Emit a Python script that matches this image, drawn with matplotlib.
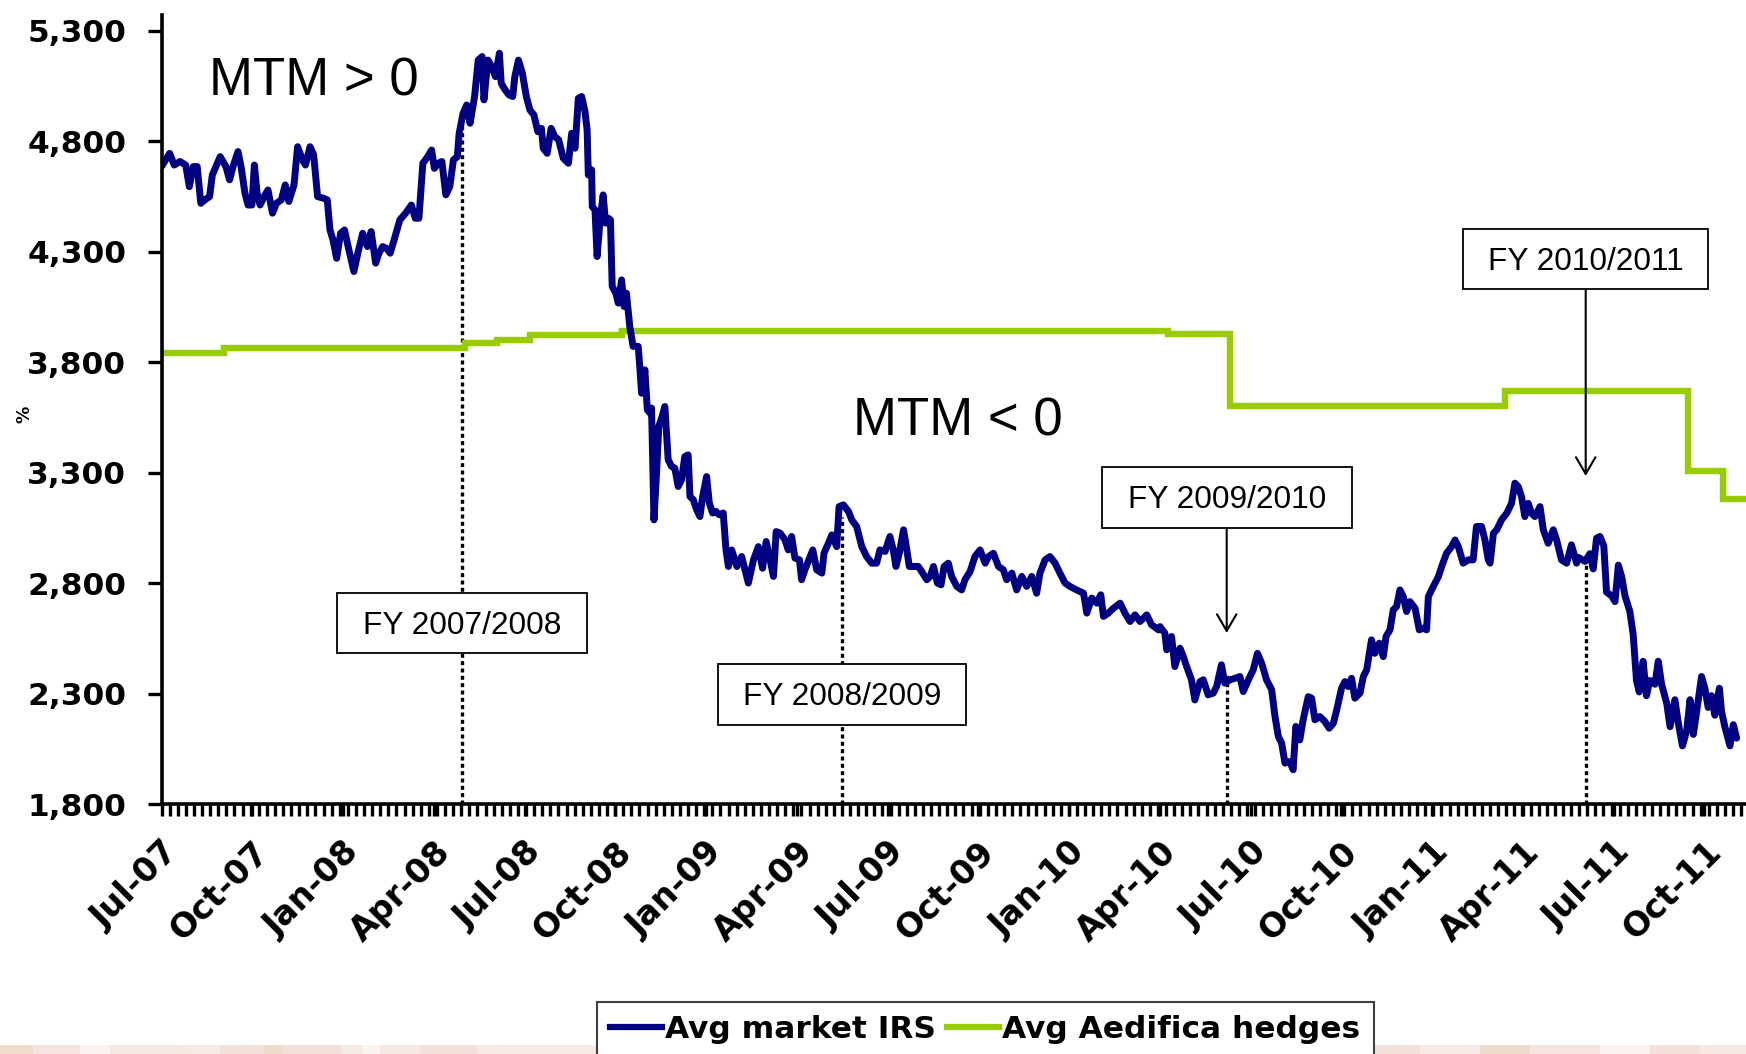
import matplotlib
matplotlib.use("Agg")
import matplotlib.pyplot as plt
from matplotlib.patches import Rectangle
from matplotlib.lines import Line2D
from matplotlib.transforms import Affine2D, ScaledTranslation
from matplotlib.ticker import MultipleLocator

# ---------------- data (x = months since July 2007) ----------------
irs_months = [
    0.0, 0.27, 0.42, 0.61, 0.80, 0.92, 1.05, 1.18, 1.30, 1.43, 1.59, 1.68, 1.94, 2.13, 2.25, 2.38,
    2.53, 2.63, 2.76, 2.86, 2.99, 3.07, 3.16, 3.26, 3.39, 3.52, 3.67, 3.80, 3.96, 4.09, 4.21, 4.38,
    4.50, 4.66, 4.76, 4.91, 5.03, 5.16, 5.35, 5.48, 5.57, 5.67, 5.79, 5.92, 6.05, 6.17, 6.27, 6.36,
    6.49, 6.65, 6.81, 6.93, 7.08, 7.19, 7.31, 7.44, 7.56, 7.69, 7.88, 8.07, 8.26, 8.39, 8.51, 8.64,
    8.80, 8.93, 9.02, 9.15, 9.27, 9.40, 9.53, 9.65, 9.78, 9.84, 9.97, 10.09, 10.20, 10.35, 10.47,
    10.60, 10.66, 10.79, 10.92, 11.04, 11.17, 11.23, 11.36, 11.49, 11.61, 11.68, 11.80, 11.93,
    12.06, 12.18, 12.31, 12.44, 12.56, 12.62, 12.75, 12.88, 13.00, 13.13,
    13.28, 13.45, 13.56, 13.67, 13.78, 13.89, 14.00, 14.07, 14.11, 14.22, 14.24, 14.33, 14.40,
    14.49, 14.60, 14.68, 14.77, 14.84, 14.90, 15.02, 15.10, 15.21, 15.29, 15.37, 15.48, 15.59,
    15.76, 15.81, 15.87, 15.98, 16.06, 16.15, 16.20, 16.28, 16.37, 16.44, 16.55, 16.64, 16.75,
    16.86, 16.97, 17.08, 17.19, 17.30, 17.41, 17.47, 17.58, 17.69, 17.80, 17.89, 18.02, 18.11,
    18.22, 18.33, 18.44, 18.57, 18.66,
    18.74, 18.85, 19.02, 19.18, 19.40, 19.57, 19.73, 19.87, 19.99, 20.12, 20.23, 20.32, 20.45,
    20.61, 20.72, 20.83, 20.94, 21.09, 21.16, 21.27, 21.38, 21.53, 21.66, 21.83, 21.90, 22.05,
    22.16, 22.32, 22.40, 22.54, 22.71, 22.82, 22.98, 23.15, 23.31, 23.48, 23.64, 23.75, 23.92,
    24.08, 24.19, 24.28, 24.39, 24.53, 24.64, 24.72, 24.86, 25.02, 25.13, 25.30, 25.41, 25.52,
    25.65, 25.77, 25.87, 26.01, 26.12, 26.29, 26.45, 26.56, 26.73, 26.89, 27.06, 27.23, 27.34,
    27.50, 27.67, 27.83, 27.94, 28.11, 28.27, 28.44, 28.60, 28.77, 28.93, 29.04, 29.21, 29.37,
    29.54, 29.70, 29.87, 30.03, 30.25, 30.48, 30.59, 30.75, 30.92, 31.05, 31.14, 31.30, 31.47,
    31.69, 31.85, 32.02, 32.18, 32.35, 32.57, 32.73, 32.96,
    33.01, 33.17, 33.23, 33.39, 33.50, 33.67, 33.78, 33.89, 34.05, 34.16, 34.33, 34.44, 34.60,
    34.77, 34.88, 35.04, 35.15, 35.32, 35.49, 35.65, 35.76, 35.93, 36.09, 36.23, 36.37, 36.53,
    36.70, 36.81, 36.92, 37.03, 37.14, 37.30, 37.41, 37.50, 37.63, 37.74, 37.91, 38.02, 38.13,
    38.29, 38.46, 38.60, 38.74, 38.85, 39.01, 39.12, 39.23, 39.34, 39.45, 39.62, 39.73, 39.84,
    40.00, 40.11, 40.26, 40.39, 40.48, 40.61, 40.72, 40.83, 40.94, 41.05, 41.16, 41.27, 41.44,
    41.58, 41.71, 41.82, 41.88, 42.04, 42.21, 42.32, 42.48, 42.65, 42.76, 42.87, 43.03, 43.20,
    43.36, 43.47, 43.64, 43.75, 43.86, 43.92, 44.03, 44.14, 44.30, 44.47, 44.63, 44.74, 44.85,
    44.96, 45.07, 45.18, 45.29, 45.40, 45.57, 45.68, 45.84, 46.01, 46.12, 46.28, 46.45, 46.61,
    46.78,
    46.84, 47.06, 47.22, 47.33, 47.44, 47.55, 47.68, 47.77, 47.94, 48.05, 48.16, 48.27, 48.38,
    48.54, 48.65, 48.76, 48.85, 48.98, 49.09, 49.20, 49.37, 49.48, 49.59, 49.76, 49.87, 50.03,
    50.14, 50.28, 50.42, 50.53, 50.64, 50.75, 50.91, 51.02, 51.13, 51.24, 51.35, 51.50, 51.57,
    51.68, 51.85, 51.96, 52.07,
]
irs_values = [
    4685, 4745, 4692, 4708, 4692, 4594, 4685, 4685, 4519, 4534, 4549, 4647, 4730, 4685, 4625, 4692,
    4753, 4685, 4564, 4511, 4511, 4692, 4564, 4511, 4549, 4579, 4474, 4519, 4534, 4602, 4527, 4602,
    4775, 4715, 4692, 4775, 4738, 4549, 4542, 4534, 4398, 4353, 4270, 4383, 4398, 4323, 4263, 4210,
    4293, 4383, 4323, 4391, 4248, 4293, 4323, 4315, 4293, 4353, 4444, 4474, 4511, 4451, 4451, 4700,
    4730, 4760, 4677, 4700, 4708, 4557, 4594, 4715, 4730, 4836, 4926, 4964, 4881, 5002, 5167,
    5183, 4987, 5167, 5137, 5092, 5198, 5062, 5032, 5009, 5002, 5092, 5167, 5107,
    5002, 4941, 4919, 4843, 4858, 4768, 4745, 4858, 4821, 4806,
    4723, 4700, 4836, 4768, 4994, 5002, 4934, 4851, 4647, 4670, 4504, 4489, 4278,
    4429, 4557, 4429, 4451, 4444, 4142, 4112, 4067, 4172, 4052, 4112, 3961, 3871,
    3871, 3780, 3659, 3765, 3584, 3569, 3592, 3086, 3313, 3509, 3554, 3599, 3358,
    3328, 3320, 3237, 3267, 3373, 3380, 3192, 3177, 3132, 3101, 3192, 3282, 3162,
    3117, 3124, 3109, 3117, 2951,
    2875, 2950, 2875, 2920, 2800, 2905, 2965, 2867, 2988, 2905, 2830, 3033, 3026,
    2996, 2950, 3011, 2913, 2905, 2815, 2860, 2898, 2950, 2860, 2845, 2935, 2981,
    3018, 2965, 3146, 3154, 3124, 3086, 3056, 2965, 2920, 2890, 2890, 2950, 2943,
    3011, 2950, 2875, 2935, 3041, 2950, 2875, 2875, 2875, 2852, 2815, 2830, 2875,
    2800, 2792, 2875, 2890, 2830, 2785, 2769, 2815, 2852, 2920, 2950, 2890, 2920,
    2935, 2875, 2860, 2815, 2845, 2769, 2830, 2785, 2830, 2754, 2845, 2905, 2920,
    2890, 2845, 2800, 2785, 2769, 2754, 2664, 2732, 2709, 2747, 2649, 2664, 2686,
    2709, 2664, 2626, 2656, 2626, 2656, 2611, 2588,
    2603, 2573, 2498, 2558, 2422, 2505, 2467, 2422, 2362, 2271, 2354, 2362, 2294,
    2302, 2332, 2430, 2347, 2362, 2369, 2377, 2309, 2362, 2407, 2482, 2437, 2362,
    2317, 2196, 2106, 2075, 1985, 1992, 1955, 2151, 2090, 2181, 2286, 2279, 2181,
    2196, 2173, 2143, 2166, 2226, 2324, 2354, 2332, 2369, 2279, 2302, 2377, 2407,
    2543, 2482, 2528, 2467, 2558, 2588, 2679, 2694, 2769, 2739, 2671, 2716, 2686,
    2588, 2596, 2588, 2739, 2784, 2829, 2875, 2935, 2965, 2995, 2965, 2890, 2905,
    2905, 3056, 3056, 2995, 2905, 2890, 3025, 3041, 3086, 3116, 3161, 3252, 3237,
    3191, 3101, 3161, 3116, 3101, 3146, 3041, 2980, 3041, 2995, 2905, 2890, 2973,
    2890,
    2916, 2898, 2933, 2864, 3003, 3011, 2968, 2759, 2742, 2716, 2881, 2829, 2742,
    2672, 2568, 2359, 2307, 2446, 2290, 2359, 2342, 2446, 2342, 2255, 2150, 2272,
    2168, 2063, 2133, 2272, 2115, 2220, 2377, 2324, 2237, 2290, 2202, 2324, 2220,
    2150, 2063, 2159, 2098,
]

hedge_months = [0.0, 2.06, 10.03, 11.10, 12.18, 15.21, 33.28, 35.32, 44.42, 50.47, 51.63, 52.40]
hedge_values = [3840, 3863, 3888, 3900, 3923, 3940, 3925, 3600, 3670, 3307, 3180, 3180]

tick_months = [0, 3, 6, 9, 12, 15, 18, 21, 24, 27, 30, 33, 36, 39, 42, 45, 48, 51]
tick_labels = ["Jul-07", "Oct-07", "Jan-08", "Apr-08", "Jul-08", "Oct-08", "Jan-09", "Apr-09",
               "Jul-09", "Oct-09", "Jan-10", "Apr-10", "Jul-10", "Oct-10", "Jan-11", "Apr-11",
               "Jul-11", "Oct-11"]
y_ticks = [1800, 2300, 2800, 3300, 3800, 4300, 4800, 5300]

series_names = ["Avg market IRS", "Avg Aedifica hedges"]
fy_labels = ["FY 2007/2008", "FY 2008/2009", "FY 2009/2010", "FY 2010/2011"]
fy_months = [9.94, 22.49, 35.21, 47.08]
fy_line_top = [4919, 3100, 2385, 2889]

# ---------------- layout ----------------
W, H, DPI = 1746, 1054, 100
BLUE = "#000080"
GREEN = "#99CC00"
BOLD = dict(family="DejaVu Sans", weight="bold")
ARIAL = "Liberation Sans"

fig = plt.figure(figsize=(W / DPI, H / DPI), dpi=DPI)
fig.patch.set_facecolor("white")
pix = Affine2D().scale(1.0 / W, -1.0 / H).translate(0, 1) + fig.transFigure

AX_L, AX_R, AX_T, AX_B = 161.5, 1746.0, 15.0, 804.0
PX_PER_MONTH = 30.25
UNITS_PER_PX = 3500.0 / (804.0 - 30.7)
ax = fig.add_axes([AX_L / W, 1 - AX_B / H, (AX_R - AX_L) / W, (AX_B - AX_T) / H])
ax.set_xlim(0, (AX_R - AX_L) / PX_PER_MONTH)
ax.set_ylim(1800, 1800 + (AX_B - AX_T) * UNITS_PER_PX)
ax.set_facecolor("none")

# series
ax.step(hedge_months, hedge_values, where="post", color=GREEN, lw=4.6, zorder=3,
        solid_joinstyle="miter")
ax.plot(irs_months, irs_values, color=BLUE, lw=5.0, zorder=4,
        solid_joinstyle="round", solid_capstyle="round")

# dotted fiscal-year lines
for m, top in zip(fy_months, fy_line_top):
    ax.plot([m, m], [1800, top], color="black", lw=2.4, linestyle=(0, (1.2, 1.0)),
            dash_capstyle="butt", zorder=2)

# spines / ticks
for s in ["top", "right"]:
    ax.spines[s].set_visible(False)
for s in ["left", "bottom"]:
    ax.spines[s].set_linewidth(2.6)
    ax.spines[s].set_color("black")
    ax.spines[s].set_zorder(6)

ax.set_yticks(y_ticks)
ax.set_yticklabels([f"{v:,}" for v in y_ticks], fontsize=22.5, **BOLD)
ax.tick_params(axis="y", direction="out", length=10.4, width=2.4, pad=15, colors="black")

ax.set_xticks(tick_months)
ax.set_xticklabels(tick_labels, fontsize=24, rotation=45, ha="right", va="top",
                   rotation_mode="anchor", **BOLD)
shift = ScaledTranslation(-9 / DPI, 0, fig.dpi_scale_trans)
for lab in ax.get_xticklabels():
    lab.set_transform(lab.get_transform() + shift)
ax.xaxis.set_minor_locator(MultipleLocator(0.2678))
ax.tick_params(axis="x", which="both", direction="out", length=8.6, width=2.4, colors="black")
ax.tick_params(axis="x", which="major", pad=14)

fig.text(24, 414, "%", transform=pix, rotation=90, ha="center", va="center",
         fontsize=12.5, **BOLD)

# MTM texts
fig.text(314, 95, "MTM > 0", transform=pix, ha="center", va="baseline",
         fontsize=38, family=ARIAL)
fig.text(957.5, 435, "MTM < 0", transform=pix, ha="center", va="baseline",
         fontsize=38, family=ARIAL)

# FY boxes (pixel coordinates: x0, x1, y0, y1)
boxes = [(337.4, 586.8, 593.0, 653.0), (718.3, 966.0, 664.0, 725.0),
         (1101.7, 1352.3, 466.7, 527.7), (1462.7, 1708.3, 228.8, 289.2)]
for (x0, x1, y0, y1), lab in zip(boxes, fy_labels):
    r = Rectangle((x0, y1), x1 - x0, y0 - y1, transform=pix, facecolor="white",
                  edgecolor="black", lw=1.3, zorder=7, clip_on=False)
    fig.patches.append(r)
    fig.text((x0 + x1) / 2, y0 + 41, lab, transform=pix, ha="center", va="baseline",
             fontsize=22.8, family=ARIAL, zorder=8)

# arrows
for (xa, ya0, ya1) in [(1226.7, 527.7, 633.0), (1585.7, 289.2, 476.0)]:
    ax.annotate("", xy=(xa, ya1), xycoords=pix, xytext=(xa, ya0), textcoords=pix,
                arrowprops=dict(arrowstyle="->,head_length=0.6,head_width=0.35",
                                lw=1.5, color="black", mutation_scale=20,
                                shrinkA=0, shrinkB=0), zorder=8, annotation_clip=False)

# bottom decorative band
band = [(0, 33, "#EFDCCB"), (33, 80, "#F5E4DF"), (80, 110, "#FBF3EF"), (110, 185, "#F6E7E2"),
        (185, 220, "#F7E9E5"), (220, 264, "#F3E2DC"), (264, 282, "#EEDCCB"), (282, 342, "#F3E0DB"),
        (342, 362, "#F6E9E6"), (362, 380, "#FAF3EF"), (380, 420, "#F7E8E3"), (420, 478, "#F4E1DC"),
        (478, 600, "#F7EAE6"), (1370, 1420, "#F3E2DC"), (1420, 1480, "#F7E9E5"),
        (1480, 1530, "#EEDCCB"), (1530, 1600, "#F5E4DF"), (1600, 1650, "#FBF3EF"),
        (1650, 1700, "#F4E1DC"), (1700, 1746, "#F6E7E2")]
for x0, x1, c in band:
    fig.patches.append(Rectangle((x0, 1054), x1 - x0, -9.5, transform=pix, facecolor=c,
                                 edgecolor="none", zorder=0))

# legend
handles = [Line2D([], [], color=BLUE, lw=4.5), Line2D([], [], color=GREEN, lw=4.5)]
leg = fig.legend(handles, series_names, loc="upper left",
                 bbox_to_anchor=(597 / W, 1 - 1002 / H), bbox_transform=fig.transFigure,
                 ncol=2, frameon=True, fancybox=False, framealpha=1,
                 prop=dict(family="DejaVu Sans", weight="bold", size=22.5),
                 handlelength=1.65, handletextpad=0.12, columnspacing=0.34,
                 borderpad=0.42, borderaxespad=0)
leg.get_frame().set_edgecolor("#404040")
leg.get_frame().set_linewidth(1.5)
leg.set_zorder(10)

fig.savefig("out.png", dpi=DPI)
